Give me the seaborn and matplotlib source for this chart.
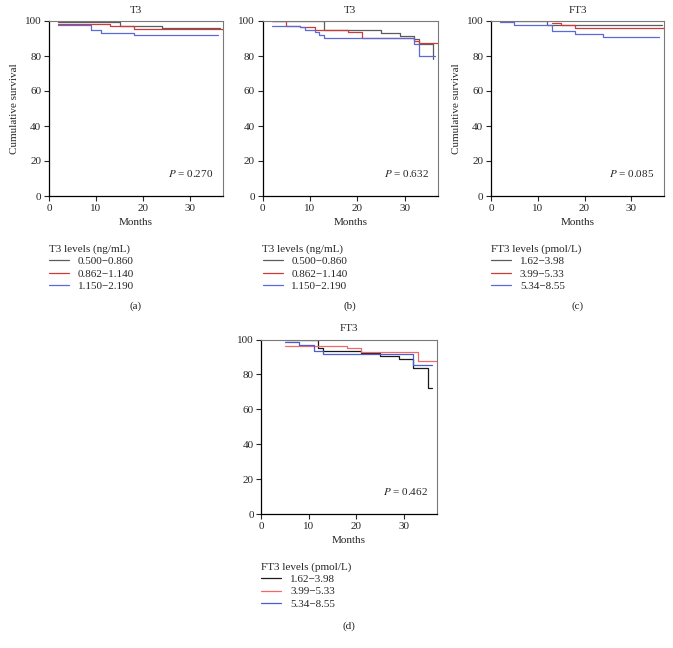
import numpy as np
import pandas as pd
import matplotlib
matplotlib.use("Agg")
import matplotlib.pyplot as plt
import seaborn as sns

sns.set_style("ticks")
plt.rcParams['font.family'] = ['Liberation Serif', 'DejaVu Serif']
plt.rcParams['mathtext.fontset'] = 'stix'

# ---------------- data ----------------
t3_groups = ["0.500\u22120.860", "0.862\u22121.140", "1.150\u22122.190"]
ft3_groups = ["1.62\u22123.98", "3.99\u22125.33", "5.34\u22128.55"]

# Panel (a)
a_g1_t = [2, 15, 24, 36.3]
a_g1_s = [99.3, 97.1, 95.8, 95.8]
a_g2_t = [2, 13, 18, 37]
a_g2_s = [98.5, 97.1, 95.4, 95.4]
a_g3_t = [2, 9, 11, 18, 36]
a_g3_s = [97.9, 94.9, 93.3, 92.0, 92.0]

# Panel (b)
b_g1_t = [2, 13, 25, 29, 32, 33, 36, 36]
b_g1_s = [100, 94.9, 93.1, 91.5, 89.7, 86.8, 86.8, 78.5]
b_g2_t = [2, 5, 8, 11, 18, 21, 32, 33, 37.3]
b_g2_s = [100, 97.1, 96.5, 95.0, 93.7, 90.3, 88.6, 87.3, 87.3]
b_g3_t = [2, 8, 9, 11, 12, 13, 32, 33, 36.4]
b_g3_s = [97.3, 96.4, 95.0, 93.5, 92.0, 90.3, 86.8, 80.2, 80.2]

# Panel (c)
c_g1_t = [2, 12, 36.5]
c_g1_s = [100, 97.5, 97.5]
c_g2_t = [13, 15, 18, 37]
c_g2_s = [98.9, 97.5, 96.1, 96.1]
c_g3_t = [2, 5, 13, 18, 24, 36]
c_g3_s = [99.3, 97.7, 94.1, 92.6, 90.9, 90.9]

# Panel (d)
d_g1_t = [5, 12, 13, 21, 25, 29, 32, 35, 36]
d_g1_s = [100, 95.0, 93.3, 92.0, 90.6, 88.7, 83.8, 72.0, 72.0]
d_g2_t = [5, 18, 21, 33, 37]
d_g2_s = [96.5, 95.0, 92.6, 87.8, 87.8]
d_g3_t = [5, 8, 11, 13, 32, 36]
d_g3_s = [98.5, 97.1, 93.3, 91.8, 85.6, 85.6]

p_values = ["0.270", "0.632", "0.085", "0.462"]
titles = ["T3", "T3", "FT3", "FT3"]
legend_titles = ["T3 levels (ng/mL)", "T3 levels (ng/mL)", "FT3 levels (pmol/L)", "FT3 levels (pmol/L)"]
panel_labels = ["(a)", "(b)", "(c)", "(d)"]
y_ticks = [0, 20, 40, 60, 80, 100]
x_ticks = [0, 10, 20, 30]

pal_top = ["#5c5c5c", "#cc3a3a", "#5a6ad8"]
pal_d = ["#1a1a1a", "#f06a6a", "#4a5ed0"]


def make_df(series, groups):
    rows = []
    for (t, s), g in zip(series, groups):
        for ti, si in zip(t, s):
            rows.append({"Months": ti, "Survival": si, "group": g})
    return pd.DataFrame(rows)


panels = [
    (make_df([(a_g1_t, a_g1_s), (a_g2_t, a_g2_s), (a_g3_t, a_g3_s)], t3_groups), t3_groups, pal_top),
    (make_df([(b_g1_t, b_g1_s), (b_g2_t, b_g2_s), (b_g3_t, b_g3_s)], t3_groups), t3_groups, pal_top),
    (make_df([(c_g1_t, c_g1_s), (c_g2_t, c_g2_s), (c_g3_t, c_g3_s)], ft3_groups), ft3_groups, pal_top),
    (make_df([(d_g1_t, d_g1_s), (d_g2_t, d_g2_s), (d_g3_t, d_g3_s)], ft3_groups), ft3_groups, pal_d),
]

W, H = 673, 648
fig = plt.figure(figsize=(W / 100, H / 100), dpi=100)

# axes boxes in pixels: left, top, right, bottom
boxes = [
    (49, 21, 223, 196),
    (262.5, 21, 438, 196),
    (491, 21, 664, 196),
    (261.3, 339.5, 437, 514),
]
label_y = [306.5, 306.5, 306.5, 626]

FS = 8
for i, ((df, groups, pal), box) in enumerate(zip(panels, boxes)):
    l, t, r, b = box
    ax = fig.add_axes([l / W, 1 - b / H, (r - l) / W, (b - t) / H])
    sns.lineplot(data=df, x="Months", y="Survival", hue="group", hue_order=groups,
                 palette=pal, drawstyle="steps-post", estimator=None, sort=False,
                 linewidth=0.9, ax=ax)
    ax.set_xlim(0, 37)
    ax.set_ylim(0, 100)
    ax.set_xticks(x_ticks)
    ax.set_yticks(y_ticks)
    ax.tick_params(direction="out", length=3.5, width=0.8, labelsize=FS, pad=2)
    for sp in ["left", "bottom"]:
        ax.spines[sp].set_color("black")
        ax.spines[sp].set_linewidth(0.9)
    for sp in ["top", "right"]:
        ax.spines[sp].set_visible(True)
        ax.spines[sp].set_color("#7a7a7a")
        ax.spines[sp].set_linewidth(0.8)
    ax.set_xlabel("Months", fontsize=FS, labelpad=4)
    if i in (0, 2):
        ax.set_ylabel("Cumulative survival", fontsize=FS, labelpad=4)
    else:
        ax.set_ylabel("")
    ax.set_title(titles[i], fontsize=FS, pad=6)
    ax.text(35, 13, r"$P$ = " + p_values[i], fontsize=FS, ha="right", va="center")
    sns.move_legend(ax, "upper left", bbox_to_anchor=(0.0, -0.275), frameon=False,
                    title=legend_titles[i], alignment="left", fontsize=FS,
                    title_fontsize=FS, borderpad=0, borderaxespad=0,
                    handlelength=1.8, handletextpad=0.8, labelspacing=0.24)
    fig.text((l + r) / 2 / W, 1 - label_y[i] / H, panel_labels[i], fontsize=FS,
             ha="center", va="center")

fig.savefig("out.png", dpi=100)
